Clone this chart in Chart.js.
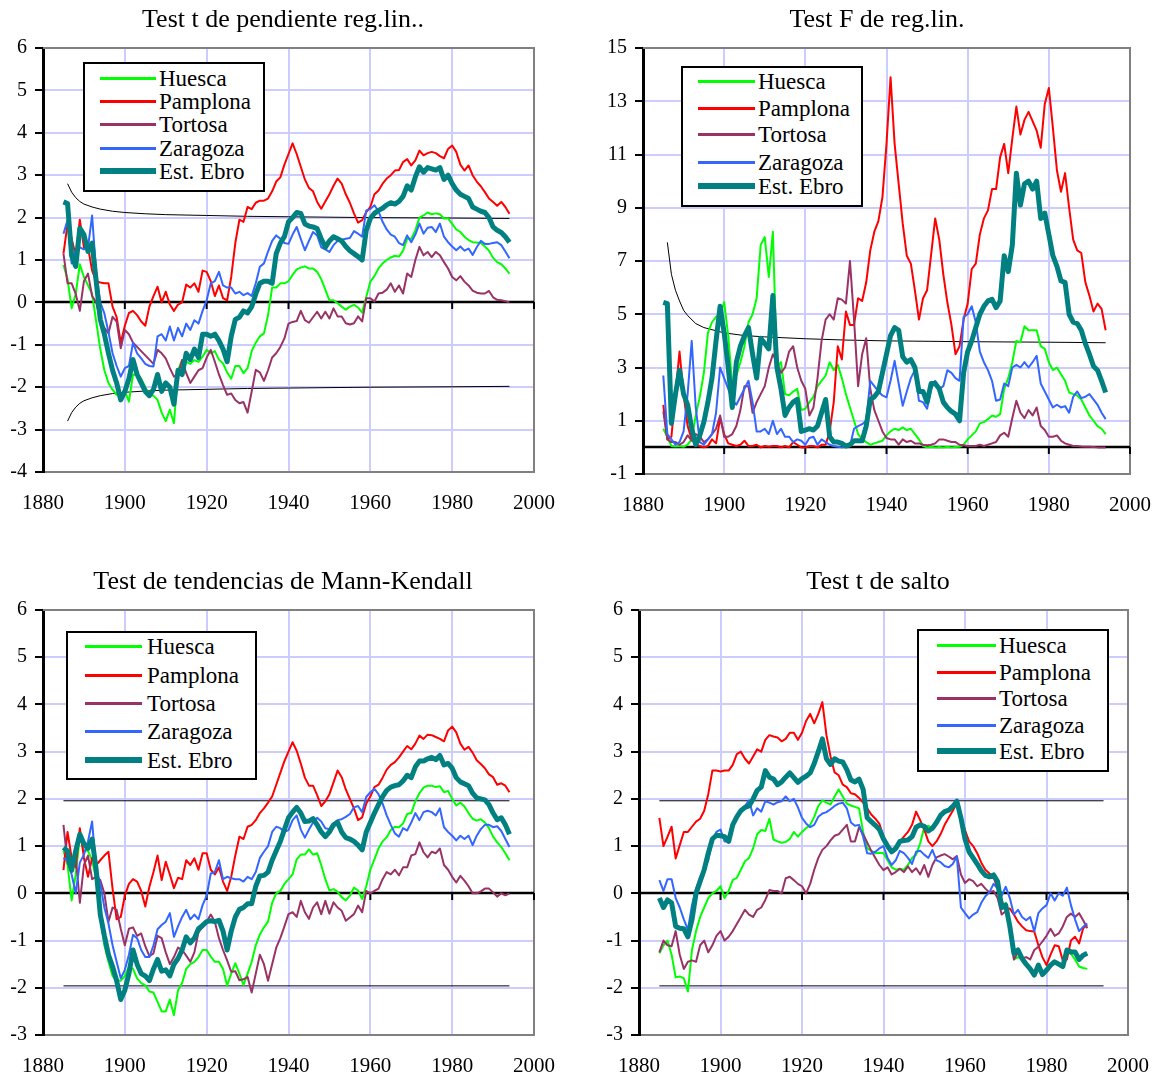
<!DOCTYPE html>
<html><head><meta charset="utf-8">
<script src="https://cdn.jsdelivr.net/npm/chart.js@4.4.1/dist/chart.umd.min.js"></script>
<style>
html,body{margin:0;padding:0;background:#fff;}
body{width:1157px;height:1079px;position:relative;overflow:hidden;font-family:"Liberation Serif","Times New Roman",serif;color:#000;}
canvas{position:absolute;}
.title{position:absolute;font-size:26px;white-space:nowrap;transform:translate(-50%,-50%);line-height:1;}
.legend{position:absolute;border:2px solid #000;background:#fff;box-sizing:border-box;}
.legend .ln{position:absolute;}
.legend .tx{position:absolute;font-size:23px;line-height:1;white-space:nowrap;transform:translateY(-50%);}
</style>
</head><body>
<script>
// ---------------- DATA ----------------
const YEARS_A = [1885,1886,1887,1888,1889,1890,1891,1892,1893,1894,1895,1896,1897,1898,1899,1900,1901,1902,1903,1904,1905,1906,1907,1908,1909,1910,1911,1912,1913,1914,1915,1916,1917,1918,1919,1920,1921,1922,1923,1924,1925,1926,1927,1928,1929,1930,1931,1932,1933,1934,1935,1936,1937,1938,1939,1940,1941,1942,1943,1944,1945,1946,1947,1948,1949,1950,1951,1952,1953,1954,1955,1956,1957,1958,1959,1960,1961,1962,1963,1964,1965,1966,1967,1968,1969,1970,1971,1972,1973,1974,1975,1976,1977,1978,1979,1980,1981,1982,1983,1984,1985,1986,1987,1988,1989,1990,1991,1992,1993,1994];
const YEARS_B = [1885,1886,1887,1888,1889,1890,1891,1892,1893,1894,1895,1896,1897,1898,1899,1900,1901,1902,1903,1904,1905,1906,1907,1908,1909,1910,1911,1912,1913,1914,1915,1916,1917,1918,1919,1920,1921,1922,1923,1924,1925,1926,1927,1928,1929,1930,1931,1932,1933,1934,1935,1936,1937,1938,1939,1940,1941,1942,1943,1944,1945,1946,1947,1948,1949,1950,1951,1952,1953,1954,1955,1956,1957,1958,1959,1960,1961,1962,1963,1964,1965,1966,1967,1968,1969,1970,1971,1972,1973,1974,1975,1976,1977,1978,1979,1980,1981,1982,1983,1984,1985,1986,1987,1988,1989,1990];

const SERIES_NAMES = ["Huesca","Pamplona","Tortosa","Zaragoza","Est. Ebro"];
const TITLES = ["Test t de pendiente reg.lin..","Test F de reg.lin.","Test de tendencias de Mann-Kendall","Test t de salto"];
const X_TICKS = [1880,1900,1920,1940,1960,1980,2000];
const Y_TICKS_1 = [-4,-3,-2,-1,0,1,2,3,4,5,6];
const Y_TICKS_2 = [-1,1,3,5,7,9,11,13,15];
const Y_TICKS_3 = [-3,-2,-1,0,1,2,3,4,5,6];
const Y_TICKS_4 = [-3,-2,-1,0,1,2,3,4,5,6];

// Panel 1: Test t de pendiente
const P1_HUESCA = [0.88,0.55,-0.14,0.2,0.9,0.6,0.4,0.2,-0.45,-1.1,-1.6,-1.9,-2.06,-2.18,-2.2,-2.1,-2.34,-1.7,-1.72,-1.8,-2.0,-2.18,-2.2,-2.3,-2.6,-2.8,-2.53,-2.85,-1.6,-1.36,-1.4,-1.45,-1.36,-1.4,-1.28,-1.12,-1.2,-1.15,-1.35,-1.44,-1.65,-1.8,-1.5,-1.5,-1.67,-1.55,-1.15,-0.95,-0.8,-0.73,-0.3,0.35,0.35,0.45,0.45,0.5,0.65,0.78,0.82,0.85,0.8,0.8,0.72,0.55,0.3,0.05,0.05,-0.02,-0.1,-0.17,-0.1,-0.06,-0.12,-0.24,0.13,0.49,0.62,0.8,0.92,1.0,1.06,1.1,1.08,1.22,1.5,1.5,1.7,2.0,2.05,2.12,2.08,2.1,2.08,1.98,1.98,1.85,1.72,1.66,1.55,1.47,1.42,1.41,1.4,1.32,1.22,1.05,0.95,0.9,0.8,0.68];
const P1_PAMPLONA = [1.15,1.85,1.5,1.1,1.95,1.3,1.3,0.75,0.5,0.47,0.45,0.45,-0.1,-0.35,-0.95,-0.55,-0.25,-0.2,-0.3,-0.45,-0.55,-0.1,0.15,0.37,0.0,0.25,-0.05,-0.2,-0.05,0.0,0.42,0.35,0.45,0.25,0.75,0.72,0.5,0.15,0.4,0.1,0.05,0.6,1.4,1.95,1.9,2.25,2.2,2.35,2.4,2.4,2.45,2.62,2.85,2.95,3.25,3.5,3.75,3.5,3.2,2.9,2.7,2.62,2.37,2.21,2.38,2.55,2.75,2.92,2.8,2.55,2.35,2.1,1.88,1.94,2.13,2.25,2.55,2.64,2.8,2.92,3.0,3.11,3.12,3.31,3.38,3.23,3.35,3.58,3.47,3.52,3.55,3.52,3.45,3.4,3.62,3.7,3.55,3.25,3.11,3.23,3.0,2.85,2.74,2.6,2.45,2.37,2.28,2.37,2.25,2.09];
const P1_TORTOSA = [1.15,0.45,0.45,0.2,-0.2,0.5,0.68,0.15,0.0,-0.45,-0.6,-0.73,-0.34,-0.45,-1.08,-0.65,-0.75,-0.95,-1.05,-1.15,-1.25,-1.35,-1.45,-1.12,-1.2,-1.32,-1.55,-1.75,-1.7,-1.36,-1.67,-1.9,-1.75,-1.6,-1.55,-1.3,-1.12,-1.4,-1.7,-1.95,-2.18,-2.15,-2.3,-2.38,-2.35,-2.6,-2.1,-1.59,-1.65,-1.85,-1.6,-1.3,-1.2,-1.05,-0.85,-0.5,-0.46,-0.44,-0.2,-0.42,-0.48,-0.35,-0.22,-0.38,-0.22,-0.38,-0.14,-0.33,-0.33,-0.49,-0.52,-0.49,-0.33,-0.45,0.1,0.1,0.02,0.21,0.23,0.3,0.45,0.25,0.4,0.21,0.68,0.6,1.0,1.31,1.11,1.19,1.07,1.19,1.11,0.95,0.8,0.6,0.52,0.62,0.49,0.4,0.28,0.23,0.21,0.21,0.27,0.12,0.06,0.05,0.03,0.0];
const P1_ZARAGOZA = [1.62,1.94,0.92,1.25,1.3,1.25,1.3,2.05,0.7,0.0,-0.26,-0.7,-1.2,-1.5,-1.75,-1.55,-1.5,-0.95,-1.2,-1.32,-1.45,-1.5,-1.51,-0.8,-0.75,-0.9,-0.57,-0.9,-0.6,-0.8,-0.5,-0.65,-0.42,-0.5,-0.2,0.05,0.45,0.5,0.72,0.4,0.35,0.35,0.21,0.25,0.17,0.22,0.15,0.45,0.84,0.92,1.2,1.45,1.58,1.5,1.4,1.38,1.6,1.78,1.5,1.23,1.45,1.66,1.58,1.3,1.25,1.19,1.35,1.45,1.48,1.5,1.52,1.68,1.62,1.55,2.17,2.2,2.29,2.15,1.9,1.72,1.6,1.55,1.4,1.35,1.58,1.42,1.6,1.86,1.62,1.76,1.78,1.66,1.86,1.55,1.42,1.32,1.23,1.32,1.22,1.27,1.12,1.3,1.45,1.38,1.38,1.4,1.42,1.35,1.2,1.04];
const P1_EBRO = [2.37,2.33,1.1,0.85,1.75,1.6,1.2,1.4,0.5,-0.4,-0.75,-1.2,-1.6,-1.9,-2.3,-2.1,-1.8,-1.35,-1.7,-1.9,-2.1,-2.2,-2.05,-1.7,-2.1,-1.9,-2.0,-2.4,-1.6,-1.7,-1.2,-1.35,-1.1,-1.3,-0.75,-0.75,-0.8,-0.75,-0.9,-1.1,-1.4,-0.8,-0.4,-0.35,-0.2,-0.25,-0.1,0.2,0.45,0.5,0.5,0.45,1.15,1.4,1.55,1.9,2.0,2.12,2.1,1.85,1.8,1.78,1.74,1.5,1.3,1.45,1.55,1.5,1.45,1.32,1.22,1.15,1.08,1.0,1.7,1.98,2.1,2.17,2.22,2.3,2.35,2.32,2.38,2.5,2.75,2.65,2.96,3.2,3.07,3.18,3.15,3.12,3.18,2.9,3.0,2.8,2.65,2.55,2.5,2.45,2.25,2.2,2.15,2.12,2.0,1.78,1.7,1.65,1.55,1.42];
const P1_CRIT_YEARS = [1886,1887,1888,1889,1890,1892,1894,1897,1900,1905,1910,1920,1930,1940,1960,1980,1994];
const P1_CRIT_UP = [2.8,2.6,2.47,2.38,2.32,2.25,2.2,2.15,2.12,2.09,2.07,2.05,2.03,2.02,2.0,1.99,1.98];
const P1_CRIT_LO = [-2.8,-2.6,-2.47,-2.38,-2.32,-2.25,-2.2,-2.15,-2.12,-2.09,-2.07,-2.05,-2.03,-2.02,-2.0,-1.99,-1.98];

// Panel 2: Test F
const P2_HUESCA = [0.7,0.4,0.05,0.03,0.05,0.02,0.1,0.3,1.2,1.9,2.8,4.3,4.7,4.9,5.0,5.45,4.2,2.3,2.7,3.2,3.8,4.7,5.0,5.6,7.6,7.9,6.4,8.1,3.0,3.2,2.0,1.96,2.1,2.2,1.4,1.45,1.7,1.9,2.3,2.5,2.7,3.2,2.9,3.1,2.6,2.0,1.5,1.0,0.5,0.3,0.2,0.1,0.15,0.2,0.25,0.45,0.6,0.7,0.65,0.75,0.65,0.7,0.5,0.3,0.05,0.0,0.02,0.0,0.01,0.0,0.02,0.0,0.01,0.02,0.1,0.3,0.45,0.6,0.9,0.95,1.06,1.2,1.15,1.25,2.2,2.6,3.2,4.0,3.95,4.55,4.4,4.4,4.4,3.8,3.7,3.2,2.9,3.0,2.75,2.5,2.06,2.0,1.95,1.8,1.5,1.2,1.0,0.8,0.7,0.5];
const P2_PAMPLONA = [1.6,0.3,0.4,2.0,3.6,2.0,0.8,0.3,0.1,0.05,0.0,0.05,0.3,0.15,1.1,0.5,0.15,0.1,0.05,0.1,0.25,0.05,0.05,0.1,0.0,0.05,0.02,0.05,0.05,0.0,0.05,0.0,0.2,0.1,0.0,0.0,0.05,0.05,0.0,0.1,0.1,0.6,1.7,3.8,3.3,5.1,4.6,4.6,5.6,5.5,6.2,7.4,8.1,8.5,9.4,11.4,13.9,11.4,9.9,8.4,7.2,6.9,5.9,4.8,5.6,5.9,7.25,8.6,7.8,6.5,5.44,4.6,3.5,3.8,4.8,5.4,6.7,6.9,8.0,8.6,8.9,9.7,9.7,10.9,11.4,10.3,11.6,12.8,11.75,12.3,12.6,12.25,11.9,11.25,12.9,13.5,12.0,10.4,9.6,10.3,9.0,7.8,7.4,7.3,6.2,5.7,5.1,5.4,5.2,4.4];
const P2_TORTOSA = [1.35,0.3,0.2,0.2,0.1,0.2,0.45,0.25,0.5,0.4,0.2,0.3,0.5,0.7,1.2,0.4,0.4,0.5,0.8,1.4,2.3,2.3,1.3,1.7,2.0,2.3,3.0,3.5,3.2,2.8,3.0,3.6,3.8,3.0,2.5,2.2,1.2,1.5,2.6,4.0,4.8,5.0,4.8,5.6,5.55,5.4,7.0,4.8,2.3,3.5,4.1,2.2,1.4,1.0,0.6,0.35,0.3,0.3,0.1,0.3,0.2,0.25,0.15,0.15,0.1,0.08,0.1,0.15,0.3,0.3,0.25,0.2,0.2,0.1,0.08,0.05,0.05,0.05,0.1,0.05,0.1,0.15,0.2,0.45,0.55,0.4,1.1,1.75,1.3,1.1,1.4,1.2,1.5,0.8,0.65,0.4,0.4,0.45,0.25,0.15,0.1,0.05,0.05,0.03,0.02,0.02,0.01,0.0,0.0,0.0];
const P2_ZARAGOZA = [2.7,0.5,0.3,0.1,0.2,0.6,2.0,4.0,1.5,0.2,0.1,0.3,0.5,1.3,3.0,2.6,2.2,1.8,1.6,1.9,2.2,2.5,1.7,0.6,0.6,0.7,0.5,1.0,0.5,0.7,0.4,0.4,0.2,0.3,0.25,0.1,0.35,0.4,0.1,0.3,0.2,0.1,0.05,0.02,0.0,0.02,0.05,0.7,0.8,0.87,1.0,2.5,2.3,2.1,1.95,1.88,2.5,3.25,2.4,1.56,2.1,2.6,2.9,1.75,1.7,1.45,2.2,2.5,2.2,2.3,2.9,2.8,2.6,2.5,4.9,5.0,5.3,4.7,3.6,3.2,2.9,2.5,1.75,1.8,2.4,2.3,3.0,3.1,3.0,3.2,3.0,3.2,3.44,2.4,2.1,1.8,1.5,1.6,1.5,1.55,1.3,1.9,2.1,1.85,1.9,2.0,1.8,1.6,1.3,1.06];
const P2_EBRO = [5.45,5.4,0.9,2.0,2.9,2.0,1.6,0.7,0.1,0.45,0.95,1.7,2.6,4.0,5.3,4.3,3.0,1.5,3.2,3.8,4.2,4.5,3.5,2.6,4.1,3.9,3.7,5.7,3.0,2.2,1.2,1.5,1.7,1.8,0.6,0.65,0.7,0.65,0.8,1.3,1.8,0.4,0.2,0.2,0.15,0.05,0.1,0.25,0.25,0.25,0.8,1.8,1.9,2.1,2.8,3.5,4.2,4.5,4.4,3.4,3.2,3.3,3.0,2.1,2.1,1.7,2.4,2.4,2.2,1.7,1.5,1.35,1.25,1.0,2.8,3.6,4.0,4.5,5.0,5.3,5.5,5.56,5.25,5.5,7.2,6.6,7.6,10.3,9.1,9.9,10.0,9.7,10.0,8.6,8.8,8.0,7.2,6.8,6.25,6.2,5.0,4.7,4.65,4.4,3.9,3.5,3.05,2.9,2.5,2.06];
const P2_CRIT_YEARS = [1886,1887,1888,1889,1890,1891,1893,1895,1900,1905,1910,1920,1930,1940,1960,1980,1994];
const P2_CRIT = [7.7,6.5,5.9,5.5,5.15,4.95,4.65,4.5,4.3,4.2,4.15,4.08,4.03,4.0,3.97,3.95,3.93];

// Panel 3: Mann-Kendall
const P3_HUESCA = [0.9,0.6,-0.15,0.4,1.2,0.9,0.9,0.7,0.3,-0.5,-1.1,-1.45,-1.75,-1.84,-1.85,-1.75,-1.55,-1.6,-1.8,-1.9,-1.95,-2.08,-2.1,-2.3,-2.5,-2.5,-2.25,-2.58,-2.05,-1.9,-1.6,-1.5,-1.45,-1.35,-1.2,-1.2,-1.34,-1.45,-1.45,-1.6,-1.95,-1.7,-1.48,-1.7,-1.94,-1.7,-1.45,-1.1,-0.87,-0.72,-0.6,-0.2,0.0,0.05,0.2,0.3,0.4,0.72,0.82,0.82,0.93,0.82,0.85,0.6,0.3,0.06,0.09,0.03,-0.08,-0.15,-0.05,0.12,0.06,-0.12,0.15,0.5,0.72,0.95,1.1,1.19,1.34,1.41,1.4,1.48,1.68,1.7,1.95,2.12,2.24,2.28,2.28,2.25,2.27,2.14,2.17,2.0,1.86,1.92,1.84,1.7,1.58,1.54,1.57,1.5,1.38,1.2,1.08,0.98,0.85,0.7];
const P3_PAMPLONA = [0.49,1.3,0.75,0.55,1.38,0.75,0.35,0.75,0.6,0.7,0.8,0.88,0.1,-0.55,-0.5,-0.05,0.2,0.3,0.25,0.05,-0.28,0.14,0.45,0.8,0.28,0.67,0.4,0.11,0.33,0.3,0.7,0.6,0.74,0.5,0.85,0.85,0.5,0.4,0.55,0.25,0.05,0.35,0.8,1.2,1.15,1.41,1.45,1.55,1.7,1.8,1.92,2.05,2.3,2.55,2.8,3.0,3.2,3.02,2.75,2.45,2.28,2.28,2.08,1.85,1.95,2.1,2.35,2.6,2.46,2.2,2.0,1.8,1.55,1.61,1.9,2.05,2.25,2.3,2.45,2.62,2.72,2.78,2.88,3.0,3.12,3.05,3.17,3.34,3.27,3.36,3.35,3.31,3.27,3.22,3.45,3.53,3.41,3.17,3.04,3.1,2.98,2.82,2.74,2.65,2.52,2.46,2.3,2.33,2.28,2.14];
const P3_TORTOSA = [1.45,0.65,0.45,0.78,-0.2,0.6,0.8,0.3,0.35,0.28,0.0,-0.6,-0.3,-0.35,-0.75,-1.1,-0.75,-0.72,-0.9,-0.85,-1.12,-1.33,-1.27,-0.9,-0.95,-1.25,-1.5,-1.35,-1.15,-1.2,-1.32,-1.45,-1.25,-0.82,-0.72,-0.6,-0.45,-0.6,-0.95,-1.2,-1.42,-1.66,-1.65,-1.84,-1.82,-1.77,-2.1,-1.7,-1.3,-1.5,-1.85,-1.5,-1.15,-0.95,-0.7,-0.44,-0.4,-0.5,-0.16,-0.4,-0.54,-0.3,-0.19,-0.44,-0.16,-0.43,-0.19,-0.3,-0.37,-0.58,-0.51,-0.44,-0.26,-0.4,0.05,0.0,0.05,0.1,0.3,0.45,0.4,0.5,0.38,0.55,0.55,0.8,0.83,1.08,0.87,0.76,0.88,0.85,0.95,0.6,0.5,0.35,0.23,0.37,0.27,0.15,0.0,0.0,0.04,0.1,0.1,0.02,-0.07,0.0,-0.04,0.0];
const P3_ZARAGOZA = [0.75,0.7,0.4,0.0,0.65,0.82,1.1,1.52,0.5,0.2,-0.3,-0.64,-1.1,-1.45,-1.8,-1.62,-1.3,-0.88,-0.95,-1.2,-1.35,-1.35,-1.1,-0.76,-0.67,-0.6,-0.42,-0.92,-0.7,-0.5,-0.35,-0.55,-0.45,-0.55,-0.25,-0.05,0.42,0.45,0.7,0.3,0.35,0.32,0.3,0.3,0.25,0.35,0.3,0.45,0.75,0.88,1.0,1.3,1.41,1.38,1.3,1.34,1.55,1.65,1.35,1.18,1.35,1.5,1.6,1.52,1.38,1.36,1.48,1.55,1.57,1.62,1.68,1.82,1.85,1.72,2.04,2.14,2.21,2.1,1.9,1.65,1.45,1.27,1.2,1.38,1.33,1.5,1.7,1.55,1.72,1.75,1.72,1.65,1.8,1.4,1.3,1.22,1.12,1.22,1.15,1.22,1.02,1.22,1.36,1.45,1.45,1.4,1.42,1.32,1.15,0.98];
const P3_EBRO = [0.97,0.9,0.49,0.9,1.25,1.05,0.95,1.15,0.5,-0.45,-0.9,-1.3,-1.55,-1.85,-2.25,-2.05,-1.7,-1.2,-1.5,-1.7,-1.75,-1.85,-1.6,-1.4,-1.65,-1.62,-1.75,-1.5,-1.38,-1.2,-0.92,-1.05,-0.95,-0.75,-0.68,-0.6,-0.58,-0.6,-0.57,-0.8,-1.2,-0.8,-0.5,-0.34,-0.3,-0.22,-0.22,0.15,0.37,0.38,0.45,0.7,0.9,1.1,1.35,1.6,1.72,1.82,1.7,1.52,1.53,1.58,1.45,1.3,1.2,1.3,1.45,1.5,1.3,1.18,1.15,1.1,1.02,0.92,1.3,1.5,1.7,1.88,2.05,2.18,2.25,2.28,2.3,2.38,2.5,2.45,2.68,2.8,2.8,2.85,2.88,2.83,2.92,2.72,2.75,2.65,2.45,2.36,2.32,2.28,2.12,2.02,2.0,1.98,1.88,1.7,1.56,1.6,1.45,1.25];
const P3_CRIT_YEARS = [1885,1994];
const P3_CRIT_UP = [1.96,1.96];
const P3_CRIT_LO = [-1.96,-1.96];

// Panel 4: Test t de salto
const P4_HUESCA = [-1.27,-1.1,-1.0,-1.3,-1.78,-1.76,-1.8,-2.08,-1.2,-0.8,-0.5,-0.3,-0.1,0.0,0.05,0.15,-0.1,0.05,0.28,0.33,0.5,0.68,0.75,0.95,1.25,1.34,1.32,1.58,1.14,1.1,1.07,1.09,1.15,1.3,1.2,1.3,1.38,1.45,1.62,1.85,1.97,1.92,1.88,2.05,2.2,2.05,1.9,1.86,1.83,1.8,1.3,0.95,0.9,0.85,0.86,0.85,0.7,0.55,0.5,0.52,0.5,0.6,0.75,0.82,1.06,1.4,1.43,1.38,1.5,1.62,1.7,1.76,1.85,1.93,1.55,1.1,0.88,0.72,0.6,0.45,0.38,0.32,0.35,0.2,-0.3,-0.2,-0.8,-1.4,-1.35,-1.4,-1.5,-1.6,-1.66,-1.55,-1.7,-1.62,-1.5,-1.45,-1.5,-1.55,-1.24,-1.28,-1.4,-1.55,-1.58,-1.6];
const P4_PAMPLONA = [1.6,1.0,1.2,1.41,0.74,1.02,1.3,1.3,1.41,1.52,1.58,1.75,2.1,2.6,2.6,2.58,2.6,2.6,2.72,2.95,3.0,2.85,2.75,2.9,3.05,3.0,3.25,3.35,3.32,3.3,3.22,3.27,3.4,3.4,3.25,3.4,3.65,3.8,3.6,3.8,4.05,3.35,2.9,2.56,2.5,2.3,2.25,2.12,2.1,2.02,1.92,1.8,1.67,1.58,1.47,1.2,0.95,0.9,1.0,1.1,1.2,1.3,1.45,1.73,1.55,1.35,1.1,1.0,1.1,1.25,1.45,1.6,1.75,1.91,1.6,1.34,1.1,1.0,0.85,0.65,0.5,0.42,0.35,0.1,-0.15,-0.35,-0.32,-0.45,-0.6,-0.7,-0.78,-0.8,-0.81,-1.1,-1.35,-1.52,-1.3,-1.1,-1.12,-1.42,-1.4,-1.0,-0.92,-1.06,-0.74,-0.67];
const P4_TORTOSA = [-1.25,-1.0,-1.1,-1.12,-0.8,-1.3,-1.6,-1.45,-1.42,-1.45,-1.1,-1.0,-1.25,-1.1,-0.9,-0.8,-1.0,-0.92,-0.8,-0.65,-0.5,-0.35,-0.45,-0.5,-0.35,-0.3,-0.14,0.07,0.05,0.05,0.0,0.32,0.35,0.28,0.2,0.15,0.0,0.2,0.5,0.75,0.92,1.0,1.12,1.22,1.25,1.35,1.45,1.1,1.1,1.4,1.25,1.08,0.9,0.75,0.6,0.49,0.55,0.4,0.45,0.52,0.45,0.57,0.45,0.53,0.4,0.6,0.35,0.6,0.76,0.8,0.83,0.78,0.72,0.79,0.4,0.22,0.3,0.26,0.15,0.2,0.1,0.02,0.05,-0.1,-0.45,-0.38,-0.7,-1.4,-1.25,-1.38,-1.35,-1.4,-1.2,-1.13,-1.02,-0.9,-0.75,-0.9,-0.85,-0.7,-0.5,-0.43,-0.5,-0.42,-0.57,-0.74];
const P4_ZARAGOZA = [0.28,0.05,0.3,0.3,-0.1,-0.3,-0.55,-0.77,-0.25,0.1,0.35,0.5,0.7,1.1,1.3,1.35,1.1,1.1,1.45,1.62,1.75,1.85,1.97,1.65,1.8,1.73,1.95,1.92,1.88,1.93,1.95,2.05,1.95,2.0,1.82,1.6,1.48,1.4,1.45,1.62,1.69,1.72,1.78,1.85,1.9,1.92,1.8,1.5,1.43,1.45,1.2,0.85,0.84,0.88,0.95,1.0,0.75,0.6,0.7,0.9,0.85,0.75,0.62,0.88,0.9,0.82,0.75,0.92,0.7,0.66,0.58,0.55,0.62,0.78,-0.3,-0.42,-0.53,-0.45,-0.4,-0.2,-0.06,0.02,0.2,0.1,-0.05,0.14,-0.1,-0.45,-0.35,-0.5,-0.57,-0.5,-0.81,-0.42,-0.32,-0.25,0.0,-0.15,0.0,-0.05,0.12,-0.25,-0.55,-0.8,-0.71,-0.64];
const P4_EBRO = [-0.1,-0.3,-0.14,-0.2,-0.7,-0.74,-0.75,-0.92,-0.56,0.0,0.25,0.5,0.85,1.15,1.23,1.22,1.2,1.1,1.45,1.62,1.75,1.82,1.85,2.0,2.18,2.25,2.6,2.46,2.42,2.3,2.36,2.46,2.55,2.45,2.35,2.43,2.48,2.55,2.75,3.0,3.27,2.85,2.73,2.85,2.8,2.78,2.62,2.4,2.36,2.42,2.2,1.6,1.52,1.44,1.35,1.15,1.0,0.88,0.95,1.1,1.12,1.13,1.2,1.4,1.45,1.42,1.32,1.38,1.5,1.65,1.73,1.76,1.84,1.95,1.6,1.15,0.88,0.75,0.62,0.48,0.38,0.35,0.39,0.25,-0.3,-0.25,-0.7,-1.27,-1.2,-1.38,-1.5,-1.6,-1.73,-1.52,-1.72,-1.63,-1.52,-1.45,-1.5,-1.55,-1.2,-1.24,-1.24,-1.4,-1.31,-1.27];
const P4_CRIT_YEARS = [1885,1994];
const P4_CRIT_UP = [1.96,1.96];
const P4_CRIT_LO = [-1.96,-1.96];

// ---------------- STYLE / LAYOUT ----------------
const FONT = "'Liberation Serif','Times New Roman',serif";
const SERIES_STYLE = [
  {color:'#00ff00', width:2},
  {color:'#ff0000', width:2},
  {color:'#993366', width:2},
  {color:'#3366ff', width:2},
  {color:'#008080', width:5}
];
const GEOM = [
  {left:0,   top:0,   W:578, H:540, L:43,  R:534,  T:48,  B:472,  ymin:-4, ymax:6,  title:[283,19],
   leg:{x:83, y:62, w:182, h:130, lx0:15, lx1:71, tx:74, rows:[16,39,62,86,109]}},
  {left:578, top:0,   W:579, H:540, L:643, R:1130, T:48,  B:474,  ymin:-1, ymax:15, title:[877,19],
   leg:{x:681, y:66, w:182, h:141, lx0:15, lx1:72, tx:75, rows:[15,42,68,96,120]}},
  {left:0,   top:540, W:578, H:539, L:43,  R:534,  T:610, B:1035, ymin:-3, ymax:6,  title:[283,581],
   leg:{x:66, y:631, w:191, h:149, lx0:17, lx1:74, tx:79, rows:[15,44,72,100,129]}},
  {left:578, top:540, W:579, H:539, L:639, R:1128, T:610, B:1035, ymin:-3, ymax:6,  title:[878,581],
   leg:{x:917, y:629, w:192, h:143, lx0:18, lx1:77, tx:80, rows:[16,43,69,96,122]}}
];

const PANEL_DATA = [
  {years:YEARS_A, series:[P1_HUESCA,P1_PAMPLONA,P1_TORTOSA,P1_ZARAGOZA,P1_EBRO], yticks:Y_TICKS_1,
   crit:[[P1_CRIT_YEARS,P1_CRIT_UP],[P1_CRIT_YEARS,P1_CRIT_LO]]},
  {years:YEARS_A, series:[P2_HUESCA,P2_PAMPLONA,P2_TORTOSA,P2_ZARAGOZA,P2_EBRO], yticks:Y_TICKS_2,
   crit:[[P2_CRIT_YEARS,P2_CRIT]]},
  {years:YEARS_A, series:[P3_HUESCA,P3_PAMPLONA,P3_TORTOSA,P3_ZARAGOZA,P3_EBRO], yticks:Y_TICKS_3,
   crit:[[P3_CRIT_YEARS,P3_CRIT_UP],[P3_CRIT_YEARS,P3_CRIT_LO]]},
  {years:YEARS_B, series:[P4_HUESCA,P4_PAMPLONA,P4_TORTOSA,P4_ZARAGOZA,P4_EBRO], yticks:Y_TICKS_4,
   crit:[[P4_CRIT_YEARS,P4_CRIT_UP],[P4_CRIT_YEARS,P4_CRIT_LO]]}
];

const framePlugin = {
  id: 'frame',
  beforeDatasetsDraw(chart) {
    const {ctx, chartArea: a, scales: {x, y}} = chart;
    ctx.save();
    ctx.strokeStyle = '#808080';
    ctx.lineWidth = 2;
    ctx.beginPath();
    ctx.moveTo(a.left, a.top); ctx.lineTo(a.right, a.top); ctx.lineTo(a.right, a.bottom);
    ctx.stroke();
    const y0 = Math.round(y.getPixelForValue(0));
    ctx.strokeStyle = '#000';
    ctx.lineWidth = 2.5;
    ctx.beginPath(); ctx.moveTo(a.left, y0); ctx.lineTo(a.right, y0); ctx.stroke();
    ctx.lineWidth = 2;
    x.ticks.forEach(t => {
      const px = x.getPixelForValue(t.value);
      ctx.beginPath(); ctx.moveTo(px, y0); ctx.lineTo(px, y0 + 7); ctx.stroke();
    });
    ctx.restore();
  }
};

GEOM.forEach((g, p) => {
  const pd = PANEL_DATA[p];
  const cv = document.createElement('canvas');
  cv.width = g.W; cv.height = g.H;
  cv.style.left = g.left + 'px'; cv.style.top = g.top + 'px';
  cv.style.width = g.W + 'px'; cv.style.height = g.H + 'px';
  document.body.appendChild(cv);

  const datasets = [];
  pd.crit.forEach(([xs, ys]) => {
    datasets.push({data: xs.map((v, i) => ({x: v, y: ys[i]})), borderColor: '#000', borderWidth: 1,
      pointRadius: 0, fill: false, tension: 0, order: 10});
  });
  pd.series.forEach((vals, i) => {
    datasets.push({label: SERIES_NAMES[i], data: pd.years.map((yr, k) => ({x: yr, y: vals[k]})),
      borderColor: SERIES_STYLE[i].color, borderWidth: SERIES_STYLE[i].width,
      pointRadius: 0, fill: false, tension: 0, order: 4 - i, borderJoinStyle: 'round'});
  });

  new Chart(cv, {
    type: 'line',
    data: {datasets},
    plugins: [framePlugin],
    options: {
      responsive: false, animation: false, devicePixelRatio: 1,
      layout: {padding: {left: 0, top: g.T - g.top, right: g.left + g.W - g.R, bottom: 0}},
      plugins: {legend: {display: false}, tooltip: {enabled: false}, title: {display: false}},
      scales: {
        x: {
          type: 'linear', min: 1880, max: 2000,
          afterBuildTicks: s => { s.ticks = X_TICKS.map(v => ({value: v})); },
          afterFit: s => { s.height = g.top + g.H - g.B; s.paddingLeft = 0; s.paddingRight = 0; },
          ticks: {padding: 19, color: '#000', font: {family: FONT, size: 21}, maxRotation: 0, autoSkip: false,
            callback: v => String(v)},
          grid: {color: '#ccccff', lineWidth: 2, drawTicks: false},
          border: {color: '#808080', width: 2}
        },
        y: {
          type: 'linear', min: g.ymin, max: g.ymax,
          afterBuildTicks: s => { s.ticks = pd.yticks.map(v => ({value: v})); },
          afterFit: s => { s.width = g.L - g.left; s.paddingTop = 0; s.paddingBottom = 0; },
          ticks: {padding: 8, color: '#000', font: {family: FONT, size: 20}, callback: v => String(v)},
          grid: {color: '#ccccff', lineWidth: 2, tickColor: '#000', tickLength: 8, tickWidth: 2},
          border: {color: '#000', width: 3}
        }
      }
    }
  });

  const t = document.createElement('div');
  t.className = 'title';
  t.textContent = TITLES[p];
  t.style.left = g.title[0] + 'px'; t.style.top = g.title[1] + 'px';
  document.body.appendChild(t);

  const lg = document.createElement('div');
  lg.className = 'legend';
  lg.style.left = g.leg.x + 'px'; lg.style.top = g.leg.y + 'px';
  lg.style.width = g.leg.w + 'px'; lg.style.height = g.leg.h + 'px';
  SERIES_NAMES.forEach((name, i) => {
    const cy = g.leg.rows[i] - 2;
    const ln = document.createElement('div');
    ln.className = 'ln';
    const w = SERIES_STYLE[i].width + 1;
    ln.style.left = g.leg.lx0 + 'px'; ln.style.width = (g.leg.lx1 - g.leg.lx0) + 'px';
    ln.style.top = (cy - w / 2) + 'px'; ln.style.height = w + 'px';
    ln.style.background = SERIES_STYLE[i].color;
    lg.appendChild(ln);
    const tx = document.createElement('div');
    tx.className = 'tx';
    tx.textContent = name;
    tx.style.left = g.leg.tx + 'px'; tx.style.top = cy + 'px';
    lg.appendChild(tx);
  });
  document.body.appendChild(lg);
});
</script>
</body></html>
